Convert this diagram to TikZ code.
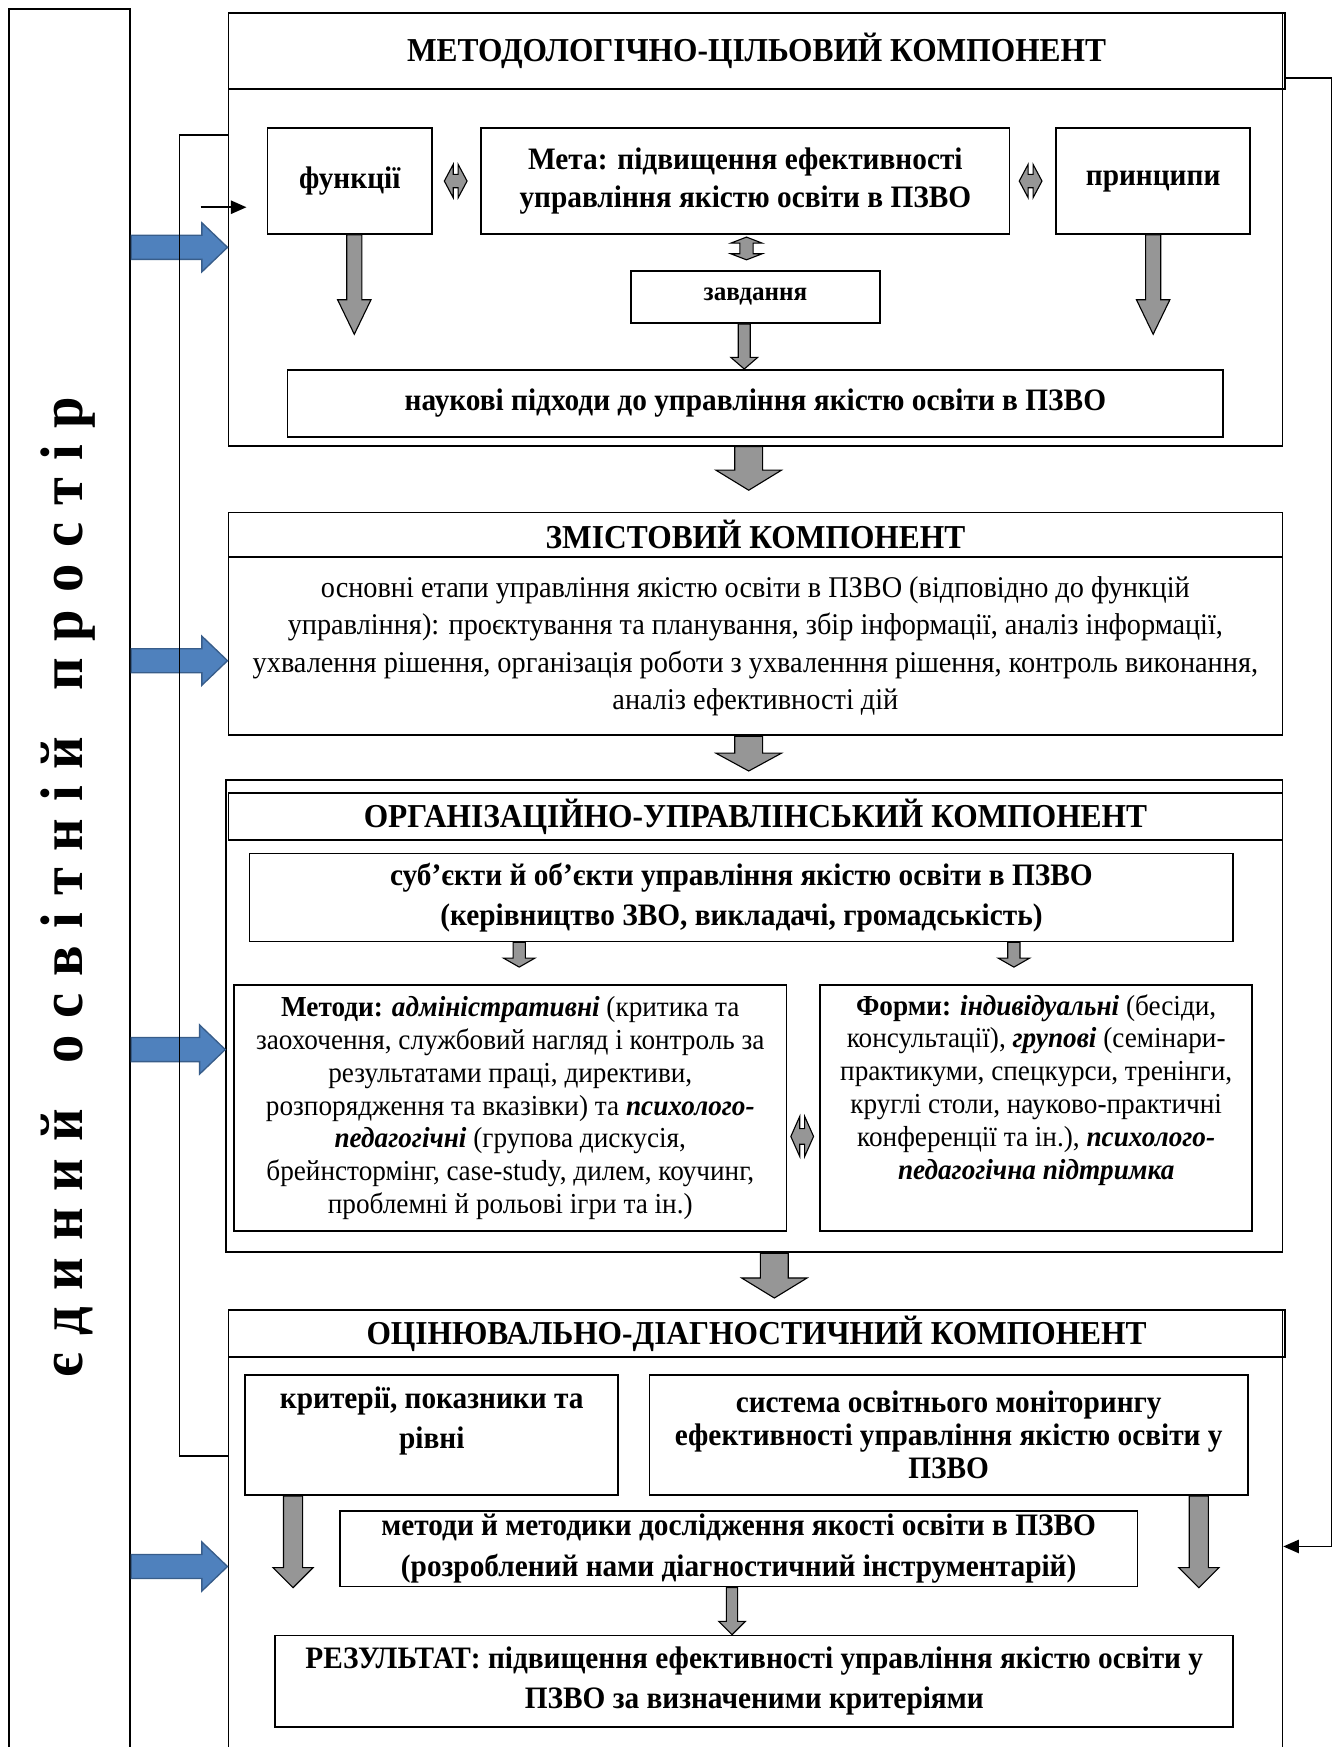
\documentclass[tikz,border=0pt]{standalone}
\usepackage{fontspec}
\setmainfont{Liberation Serif}[FakeStretch=0.94]
\usetikzlibrary{arrows.meta,positioning,calc}

\definecolor{arrowgray}{RGB}{150,150,150}
\definecolor{arrowblue}{RGB}{79,129,189}
\definecolor{arrowblueline}{RGB}{56,93,138}
\newcommand{\lsp}{\hspace{7.6pt}}
\newcommand{\wsp}{\hspace{20.5pt}}
\newcommand{\bi}[1]{\textbf{\textit{#1}}}

\begin{document}
\begin{tikzpicture}[
    x=0.5pt, y=-0.5pt,
    box/.style={draw, line width=0.8pt, align=center, inner sep=1pt},
    hdrbox/.style={box, font=\fontsize{15}{18}\selectfont\bfseries},
    boldbox/.style={box, font=\fontsize{14}{17}\selectfont\bfseries},
    plainbox/.style={box, font=\fontsize{13.5}{16.7}\selectfont},
    smallbox/.style={box, font=\fontsize{13}{14.7}\selectfont},
    framebox/.style={draw, line width=0.8pt, inner sep=0pt},
    garrow/.style={draw=black, line width=0.5pt, fill=arrowgray},
    barrow/.style={draw=arrowblueline, line width=0.6pt, fill=arrowblue},
    thinarrow/.style={line width=0.7pt, -{Triangle[length=7pt,width=6pt]}},
    blockdown/.style n args={3}{to path={let \p1=(\tikztostart), \p2=(\tikztotarget) in
        (\x1-#1,\y1) -- (\x1-#1,\y2+#3) -- (\x1-#2,\y2+#3) -- (\x1,\y2)
        -- (\x1+#2,\y2+#3) -- (\x1+#1,\y2+#3) -- (\x1+#1,\y1) -- cycle}},
    blockright/.style n args={3}{to path={let \p1=(\tikztostart), \p2=(\tikztotarget) in
        (\x1,\y1+#1) -- (\x2-#3,\y1+#1) -- (\x2-#3,\y1+#2) -- (\x2,\y1)
        -- (\x2-#3,\y1-#2) -- (\x2-#3,\y1-#1) -- (\x1,\y1-#1) -- cycle}},
    blockdblh/.style n args={3}{to path={let \p1=(\tikztostart), \p2=(\tikztotarget) in
        (\x1,\y1) -- (\x1+#3,\y1+#2) -- (\x1+#3,\y1+#1) -- (\x2-#3,\y1+#1) -- (\x2-#3,\y1+#2)
        -- (\x2,\y1) -- (\x2-#3,\y1-#2) -- (\x2-#3,\y1-#1) -- (\x1+#3,\y1-#1) -- (\x1+#3,\y1-#2) -- cycle}},
    blockdblv/.style n args={3}{to path={let \p1=(\tikztostart), \p2=(\tikztotarget) in
        (\x1,\y1) -- (\x1+#2,\y1-#3) -- (\x1+#1,\y1-#3) -- (\x1+#1,\y2+#3) -- (\x1+#2,\y2+#3)
        -- (\x1,\y2) -- (\x1-#2,\y2+#3) -- (\x1-#1,\y2+#3) -- (\x1-#1,\y1-#3) -- (\x1-#2,\y1-#3) -- cycle}}
]
\useasboundingbox (0,0) rectangle (1202,1568);

% left panel
\node[framebox, minimum width=54.5pt, minimum height=796pt] (space) at (62.5,804) {};
\node[rotate=90, anchor=base, font=\fontsize{27}{30}\selectfont\bfseries] (spacetext) at (74,796)
    {є\lsp д\lsp и\lsp н\lsp и\lsp й\wsp о\lsp с\lsp в\lsp і\lsp т\lsp н\lsp і\lsp й\wsp п\lsp р\lsp о\lsp с\lsp т\lsp і\lsp р};

% methodological component
\node[framebox, minimum width=473pt, minimum height=194pt] (frameA) at (678,206) {};
\node[hdrbox, minimum width=474pt, minimum height=34pt] (headA) at (679,46) {МЕТОДОЛОГІЧНО-ЦІЛЬОВИЙ КОМПОНЕНТ};
\node[boldbox, minimum width=74pt, minimum height=47.5pt] (func) at (314,162.5) {функції};
\node[boldbox, minimum width=237pt, minimum height=47.5pt] (meta) at (669,162.5) {Мета: підвищення ефективності\\управління якістю освіти в ПЗВО};
\node[boldbox, minimum width=87pt, minimum height=47.5pt] (princ) at (1035,162.5) {принципи};
\node[boldbox, font=\fontsize{12}{14}\selectfont\bfseries, minimum width=112pt, minimum height=23.5pt] (task) at (678,266.5) {завдання};
\node[boldbox, minimum width=420pt, minimum height=30pt] (appr) at (678,362) {наукові підходи до управління якістю освіти в ПЗВО};

% content component
\node[hdrbox, minimum width=473pt, minimum height=20pt] (headB) at (678,480) {ЗМІСТОВИЙ КОМПОНЕНТ};
\node[plainbox, minimum width=473pt, minimum height=80pt] (bodyB) at (678,580) {основні етапи управління якістю освіти в ПЗВО (відповідно до функцій\\управління): проєктування та планування, збір інформації, аналіз інформації,\\ухвалення рішення, організація роботи з ухваленння рішення, контроль виконання,\\аналіз ефективності дій};

% organisational component
\node[framebox, minimum width=474pt, minimum height=212pt] (frameC) at (677,912) {};
\node[hdrbox, minimum width=473pt, minimum height=21pt] (headC) at (678,733) {ОРГАНІЗАЦІЙНО-УПРАВЛІНСЬКИЙ КОМПОНЕНТ};
\node[boldbox, font=\fontsize{14}{18}\selectfont\bfseries, minimum width=441.5pt, minimum height=39.5pt] (subj) at (665.5,805.5) {суб’єкти й об’єкти управління якістю освіти в ПЗВО\\(керівництво ЗВО, викладачі, громадськість)};
\node[smallbox, minimum width=248pt, minimum height=110.5pt] (meth) at (458,994.5) {\textbf{Методи:} \bi{адміністративні} (критика та\\заохочення, службовий нагляд і контроль за\\результатами праці, директиви,\\розпорядження та вказівки) та \bi{психолого-}\\\bi{педагогічні} (групова дискусія,\\брейнстормінг, case-study, дилем, коучинг,\\проблемні й рольові ігри та ін.)};
\node[smallbox, minimum width=194pt, minimum height=110.5pt] (forms) at (930,994.5) {\textbf{Форми:} \bi{індивідуальні} (бесіди,\\консультації), \bi{групові} (семінари-\\практикуми, спецкурси, тренінги,\\круглі столи, науково-практичні\\конференції та ін.), \bi{психолого-}\\\bi{педагогічна підтримка}\\\strut};

% evaluative component
\node[framebox, minimum width=473pt, minimum height=212pt] (frameD) at (678,1388) {};
\node[hdrbox, minimum width=474pt, minimum height=21pt] (headD) at (679,1197) {ОЦІНЮВАЛЬНО-ДІАГНОСТИЧНИЙ КОМПОНЕНТ};
\node[boldbox, font=\fontsize{14}{18}\selectfont\bfseries, minimum width=167.5pt, minimum height=54pt] (crit) at (387.5,1288) {критерії, показники та\\рівні\\[-8pt]\strut};
\node[boldbox, font=\fontsize{14}{14.8}\selectfont\bfseries, minimum width=268.5pt, minimum height=54pt] (monit) at (851.5,1288) {система освітнього моніторингу\\ефективності управління якістю освіти у\\ПЗВО};
\node[boldbox, font=\fontsize{14}{18.5}\selectfont\bfseries, minimum width=358pt, minimum height=34pt] (tools) at (663,1390) {методи й методики дослідження якості освіти в ПЗВО\\(розроблений нами діагностичний інструментарій)};
\node[boldbox, font=\fontsize{14}{18}\selectfont\bfseries, minimum width=430pt, minimum height=41pt] (result) at (677,1509) {РЕЗУЛЬТАТ: підвищення ефективності управління якістю освіти у\\ПЗВО за визначеними критеріями};

% free ends of block arrows
\coordinate (funcend) at (318,300);
\coordinate (princend) at (1035,300);
\coordinate (abend) at (672,440);
\coordinate (bcend) at (672,692);
\coordinate (cdend) at (695,1165);
\coordinate (methin) at (466,868);
\coordinate (formsin) at (910,868);
\coordinate (critend) at (263,1425);
\coordinate (monitend) at (1076,1425);
\coordinate (loopin) at (180,186);

% gray block arrows
\draw[garrow, blockdown={3.4pt}{7.5pt}{15.5pt}] (func.south -| funcend) to (funcend);
\draw[garrow, blockdown={3.4pt}{7.5pt}{15.5pt}] (princ.south -| princend) to (princend);
\draw[garrow, blockdown={2.7pt}{6pt}{5.2pt}] (task.south -| 668,0) to (appr.north -| 668,0);
\draw[garrow, blockdown={6.25pt}{14.7pt}{9pt}] (frameA.south -| abend) to (abend);
\draw[garrow, blockdown={6.25pt}{14.7pt}{8pt}] (bodyB.south -| bcend) to (bcend);
\draw[garrow, blockdown={6.25pt}{14.7pt}{9pt}] (frameC.south -| cdend) to (cdend);
\draw[garrow, blockdown={2.75pt}{7pt}{4pt}] (subj.south -| methin) to (methin);
\draw[garrow, blockdown={2.75pt}{7pt}{4pt}] (subj.south -| formsin) to (formsin);
\draw[garrow, blockdown={4.3pt}{9pt}{9pt}] (crit.south -| critend) to (critend);
\draw[garrow, blockdown={4.3pt}{9pt}{9pt}] (monit.south -| monitend) to (monitend);
\draw[garrow, blockdown={2.5pt}{6pt}{6pt}] (tools.south -| 657,0) to (result.north -| 657,0);
\draw[garrow, blockdblh={3pt}{7.5pt}{4pt}] ($(func.east)+(10,0)$) to ($(meta.west)+(-12,0)$);
\draw[garrow, blockdblh={3pt}{7.5pt}{4pt}] ($(meta.east)+(8,0)$) to ($(princ.west)+(-12,0)$);
\draw[garrow, blockdblv={3pt}{7pt}{2.7pt}] ($(meta.south)+(1,2)$) to ($(task.north)+(-8,-9)$);
\draw[garrow, blockdblh={3.5pt}{9pt}{4pt}] ($(meth.east |- 0,1020)+(3,0)$) to ($(forms.west |- 0,1020)+(-5,0)$);

% blue arrows from the common space
\draw[barrow, blockright={5.4pt}{11pt}{11.5pt}] (space.east |- 0,222) to (frameA.west |- 0,222);
\draw[barrow, blockright={5.4pt}{11pt}{11.5pt}] (space.east |- 0,593) to (bodyB.west |- 0,593);
\draw[barrow, blockright={5.4pt}{11pt}{11.5pt}] (space.east |- 0,942) to (frameC.west |- 0,942);
\draw[barrow, blockright={5.4pt}{11pt}{11.5pt}] (space.east |- 0,1406) to (frameD.west |- 0,1406);

% feedback lines
\draw[line width=0.7pt] (frameD.west |- 0,1307) -| (161,121) -- (frameA.west |- 0,121);
\draw[thinarrow, shorten >=9pt] (loopin) -- (loopin -| func.west);
\draw[thinarrow] (headA.east |- 0,70) -- (1195,70) |- (frameD.east |- 0,1388);
\end{tikzpicture}
\end{document}
